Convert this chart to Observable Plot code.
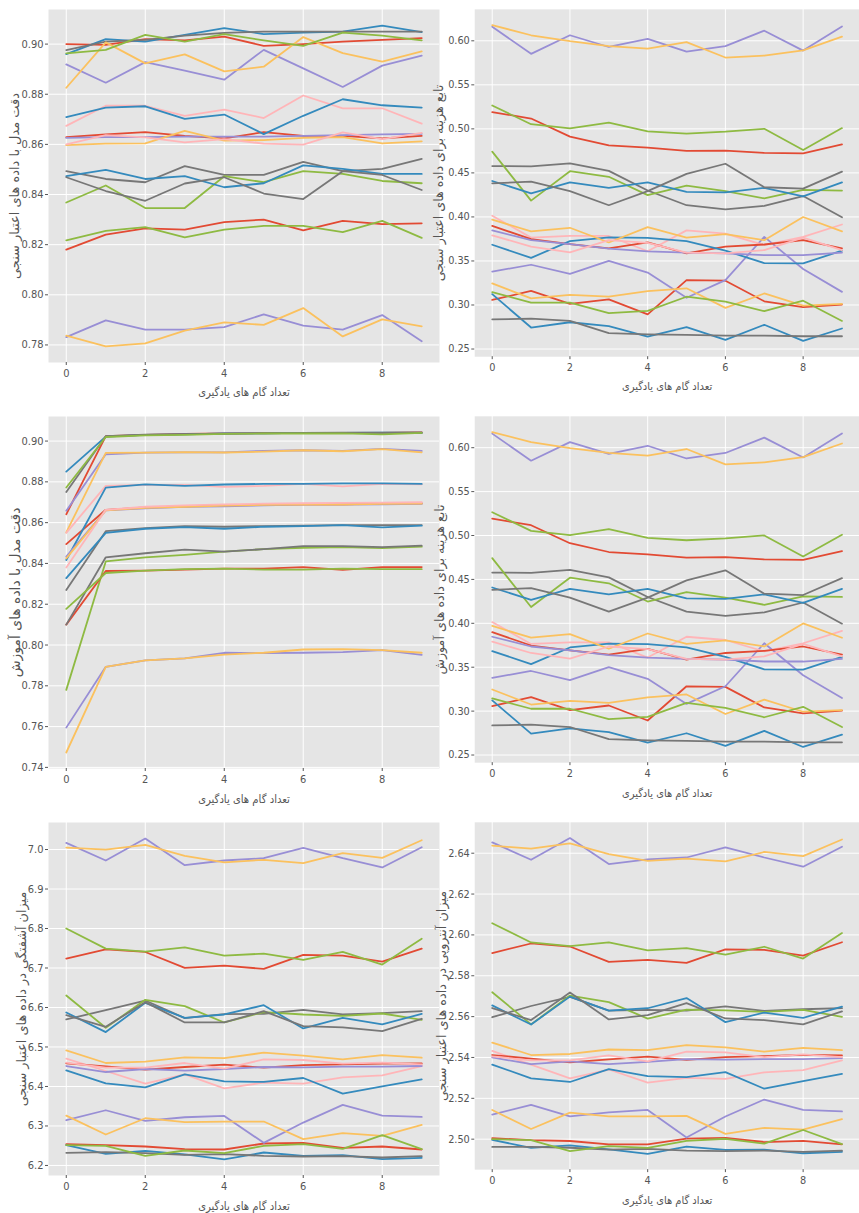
<!DOCTYPE html>
<html><head><meta charset="utf-8">
<script src="https://cdn.jsdelivr.net/npm/d3@7"></script>
<script src="https://cdn.jsdelivr.net/npm/@observablehq/plot@0.6"></script>
<style>
html,body{margin:0;padding:0;background:#fff;}
#fig{position:relative;width:859px;height:1213px;overflow:hidden;background:#fff;}
#fig > div{position:absolute;}
</style></head><body><div id="fig"></div>
<script>
// ---- data ----
const steps = [0,1,2,3,4,5,6,7,8,9];
const xTicks = [0,2,4,6,8];
const xLabel = "تعداد گام های یادگیری";

// series order: red, blue, purple, gray, yellow, green, pink (x3 runs)
const valAccuracy = [
 [0.900,0.8997,0.902,0.9015,0.903,0.8993,0.900,0.901,0.9017,0.9024],
 [0.896,0.902,0.901,0.9037,0.9064,0.904,0.9046,0.905,0.9074,0.9048],
 [0.8919,0.8846,0.8928,0.8894,0.8858,0.8977,0.8903,0.8829,0.8914,0.8954],
 [0.8976,0.901,0.9017,0.9034,0.9045,0.905,0.905,0.905,0.905,0.905],
 [0.8826,0.9007,0.8923,0.8959,0.8891,0.891,0.9028,0.8964,0.893,0.8971],
 [0.8963,0.8977,0.9037,0.901,0.904,0.9015,0.8993,0.9046,0.9034,0.9015],
 [0.8674,0.8754,0.8754,0.8714,0.8739,0.8705,0.8795,0.8744,0.8744,0.8683],
 [0.8629,0.864,0.8649,0.8634,0.8624,0.8649,0.8634,0.8634,0.8624,0.8634],
 [0.8709,0.8747,0.8752,0.8702,0.8719,0.8641,0.8714,0.878,0.8756,0.8747],
 [0.8626,0.8629,0.8629,0.8631,0.8631,0.8631,0.8634,0.8637,0.864,0.8642],
 [0.8493,0.8462,0.8449,0.8513,0.8478,0.8478,0.853,0.8493,0.8502,0.8542],
 [0.8597,0.8603,0.8604,0.8654,0.8615,0.8617,0.8626,0.8629,0.8604,0.8612],
 [0.8368,0.8436,0.8346,0.8346,0.8473,0.8449,0.8493,0.8482,0.8454,0.8445],
 [0.860,0.8637,0.8628,0.8608,0.8621,0.8603,0.8599,0.8648,0.8621,0.8646],
 [0.818,0.824,0.8265,0.826,0.829,0.830,0.8257,0.8295,0.8282,0.8285],
 [0.8473,0.8498,0.8462,0.8473,0.8429,0.8445,0.8516,0.8502,0.8482,0.8482],
 [0.7831,0.7898,0.7861,0.7861,0.7871,0.7922,0.7877,0.7861,0.7919,0.7815],
 [0.8469,0.8414,0.8375,0.8444,0.8469,0.8404,0.8382,0.8493,0.8478,0.8418],
 [0.7837,0.7794,0.7806,0.7857,0.789,0.788,0.7947,0.7834,0.7902,0.7874],
 [0.8217,0.8255,0.827,0.8229,0.826,0.8275,0.8275,0.825,0.8295,0.8227]
];

const trainAccuracy = [
 [0.8641,0.9024,0.903,0.9035,0.9037,0.904,0.904,0.904,0.904,0.9042],
 [0.885,0.9022,0.903,0.9033,0.9037,0.9038,0.904,0.904,0.9041,0.904],
 [0.8658,0.8935,0.8943,0.8945,0.8945,0.8952,0.8955,0.8952,0.8962,0.8952],
 [0.875,0.9024,0.9031,0.9034,0.9036,0.9038,0.904,0.9041,0.9041,0.9042],
 [0.8552,0.8942,0.8943,0.8946,0.8944,0.8948,0.8955,0.895,0.896,0.8945],
 [0.8772,0.902,0.9028,0.903,0.9035,0.9037,0.9037,0.9038,0.9033,0.904],
 [0.855,0.878,0.8785,0.8785,0.8775,0.878,0.879,0.8778,0.879,0.8788],
 [0.8495,0.8663,0.8675,0.868,0.8685,0.8688,0.869,0.869,0.8693,0.8695],
 [0.8417,0.8772,0.8788,0.878,0.8787,0.879,0.879,0.8793,0.8793,0.879],
 [0.8434,0.866,0.867,0.8678,0.868,0.8685,0.8688,0.8688,0.869,0.8692],
 [0.827,0.8558,0.8573,0.8583,0.858,0.8583,0.8585,0.8588,0.8588,0.8588],
 [0.8425,0.866,0.8672,0.8678,0.8683,0.8687,0.8688,0.8689,0.8692,0.8693],
 [0.778,0.841,0.843,0.8442,0.8458,0.847,0.8477,0.848,0.8475,0.8482],
 [0.838,0.8663,0.8678,0.8685,0.869,0.8693,0.8695,0.8697,0.8698,0.870],
 [0.81,0.8363,0.8365,0.837,0.8375,0.8375,0.8382,0.8368,0.8382,0.8382],
 [0.8328,0.855,0.857,0.8578,0.857,0.858,0.8583,0.8588,0.8577,0.8585],
 [0.7595,0.7893,0.7925,0.7935,0.7962,0.796,0.7962,0.7965,0.7975,0.7952],
 [0.81,0.843,0.845,0.8468,0.8458,0.847,0.8485,0.8485,0.848,0.8487],
 [0.7473,0.7893,0.7925,0.7935,0.7953,0.7962,0.7978,0.798,0.7975,0.7962],
 [0.8177,0.8353,0.8365,0.8372,0.8375,0.837,0.837,0.8375,0.8372,0.8372]
];

const valLoss = [
 [0.3057,0.316,0.3012,0.3064,0.2893,0.3283,0.3276,0.3042,0.2975,0.3005],
 [0.3123,0.2744,0.2804,0.276,0.2641,0.2748,0.2604,0.2775,0.2592,0.2733],
 [0.3379,0.3457,0.3353,0.3502,0.3368,0.3082,0.3283,0.3773,0.3409,0.3149],
 [0.2837,0.2845,0.2819,0.2681,0.2667,0.266,0.2652,0.2652,0.2645,0.2645],
 [0.3246,0.3075,0.3116,0.3094,0.3157,0.319,0.2967,0.3131,0.2993,0.3012],
 [0.3146,0.3027,0.3027,0.2908,0.2934,0.3094,0.3038,0.293,0.3049,0.2819],
 [0.4014,0.3765,0.3784,0.3784,0.361,0.3847,0.381,0.368,0.3773,0.3914],
 [0.3899,0.3747,0.3691,0.3643,0.371,0.3587,0.3662,0.3687,0.3736,0.3643],
 [0.3684,0.3535,0.3725,0.3769,0.3762,0.3725,0.3617,0.3476,0.3472,0.3617],
 [0.3847,0.3736,0.3691,0.3639,0.361,0.3595,0.3587,0.3565,0.3565,0.3595],
 [0.4578,0.4575,0.4608,0.4523,0.43,0.4133,0.4085,0.4125,0.4237,0.3996],
 [0.397,0.3836,0.3877,0.371,0.3884,0.3765,0.3806,0.3736,0.3999,0.3836],
 [0.4742,0.4185,0.4519,0.4456,0.4248,0.4356,0.4293,0.4211,0.4307,0.43],
 [0.3791,0.3662,0.3598,0.3736,0.3706,0.3595,0.3587,0.3624,0.3765,0.3624],
 [0.5191,0.5117,0.4912,0.4812,0.4786,0.4749,0.4753,0.4727,0.4723,0.4823],
 [0.4408,0.4267,0.4393,0.433,0.4393,0.4285,0.4278,0.433,0.4233,0.4393],
 [0.616,0.5852,0.6063,0.593,0.6022,0.5877,0.594,0.6115,0.5889,0.6163],
 [0.4382,0.44,0.4293,0.4133,0.4293,0.4489,0.4604,0.4337,0.4322,0.4515],
 [0.6178,0.6063,0.5996,0.594,0.591,0.5985,0.581,0.5833,0.5892,0.6048],
 [0.5265,0.5053,0.5005,0.5072,0.4972,0.4946,0.4968,0.5001,0.476,0.5009]
];
// the training-loss panel in the source shows the same curves
const trainLoss = valLoss;

const valPerplexity = [
 [6.2539,6.2514,6.248,6.2413,6.2404,6.2556,6.2573,6.2446,6.248,6.2404],
 [6.2514,6.2295,6.2371,6.2278,6.2152,6.2328,6.2244,6.2261,6.216,6.2194],
 [6.3145,6.3398,6.3128,6.3221,6.3255,6.2573,6.3086,6.3533,6.3263,6.323],
 [6.232,6.2337,6.2312,6.227,6.2286,6.2244,6.2227,6.2236,6.2202,6.2236],
 [6.3263,6.2783,6.3196,6.3095,6.3112,6.3112,6.2665,6.2817,6.275,6.3027],
 [6.2514,6.2497,6.2244,6.2379,6.2312,6.2497,6.2539,6.2421,6.2766,6.2413],
 [6.4703,6.4392,6.4072,6.4307,6.3954,6.4097,6.4072,6.4232,6.4282,6.4518],
 [6.4585,6.451,6.4425,6.4493,6.4552,6.4476,6.4543,6.456,6.4577,6.4585],
 [6.4408,6.408,6.3979,6.4307,6.413,6.4114,6.4215,6.3819,6.4004,6.4181],
 [6.4518,6.4366,6.4442,6.44,6.4442,6.4493,6.4484,6.4501,6.4501,6.4518],
 [6.5697,6.5933,6.6177,6.573,6.5832,6.584,6.5941,6.5823,6.5857,6.5907],
 [6.4914,6.4594,6.4627,6.4737,6.472,6.4855,6.4779,6.4686,6.4796,6.4728],
 [6.6303,6.5486,6.6194,6.6034,6.5621,6.5882,6.5823,6.579,6.5848,6.5688],
 [6.4602,6.4476,6.4476,6.4594,6.445,6.4686,6.467,6.4577,6.4602,6.456],
 [6.7238,6.7474,6.7406,6.7002,6.7061,6.6977,6.733,6.7314,6.7162,6.749],
 [6.5874,6.5377,6.6118,6.5739,6.5823,6.6059,6.5469,6.5739,6.557,6.584],
 [7.0168,6.9722,7.0278,6.9604,6.9722,6.978,7.0042,6.978,6.9545,7.0059],
 [6.5806,6.5512,6.6135,6.5621,6.5621,6.5907,6.5528,6.5495,6.5402,6.5714],
 [7.005,7.0,7.0118,6.984,6.9672,6.974,6.9655,6.9907,6.979,7.0236],
 [6.80,6.749,6.7415,6.7524,6.7314,6.7364,6.7204,6.7406,6.7086,6.7743]
];

const valEntropy = [
 [2.5005,2.4995,2.4991,2.4975,2.4975,2.5003,2.5006,2.4986,2.4992,2.4975],
 [2.4997,2.4957,2.497,2.495,2.4928,2.4963,2.4947,2.4949,2.4931,2.4938],
 [2.512,2.5168,2.5112,2.5131,2.5143,2.5008,2.5111,2.5194,2.5143,2.5136],
 [2.4962,2.4962,2.4958,2.4949,2.4952,2.4944,2.4941,2.4944,2.4938,2.4944],
 [2.5143,2.505,2.513,2.5112,2.5112,2.5114,2.5026,2.5055,2.5047,2.5098],
 [2.5,2.4995,2.4941,2.4966,2.4957,2.4992,2.5002,2.4978,2.5045,2.4976],
 [2.5432,2.5365,2.5298,2.5341,2.5277,2.53,2.5295,2.5327,2.5338,2.5386],
 [2.5412,2.5394,2.5376,2.5391,2.5404,2.5388,2.5402,2.5407,2.5413,2.541],
 [2.5365,2.5298,2.528,2.5343,2.5309,2.5304,2.5328,2.5247,2.5284,2.532],
 [2.54,2.5367,2.5381,2.5367,2.5378,2.5392,2.5389,2.5392,2.5392,2.5397],
 [2.5597,2.5652,2.5697,2.5629,2.5633,2.5629,2.565,2.5628,2.5636,2.5641],
 [2.5473,2.5412,2.5417,2.5439,2.5436,2.546,2.5449,2.5428,2.5447,2.5436],
 [2.5719,2.5562,2.5703,2.5671,2.559,2.5634,2.5631,2.5623,2.5633,2.5599],
 [2.5405,2.5386,2.5386,2.541,2.5381,2.5429,2.5425,2.5402,2.5415,2.5402],
 [2.5911,2.5958,2.5943,2.5868,2.5878,2.5863,2.5929,2.5927,2.5899,2.5964],
 [2.5655,2.5561,2.5698,2.5629,2.5641,2.5691,2.5573,2.562,2.5594,2.5649],
 [2.6453,2.6368,2.6474,2.6347,2.637,2.6379,2.6429,2.6379,2.6334,2.6432],
 [2.5642,2.5583,2.5718,2.5586,2.5607,2.5666,2.5591,2.5583,2.5562,2.5626],
 [2.6437,2.6422,2.6448,2.6395,2.6363,2.6373,2.636,2.6406,2.6386,2.6467],
 [2.6057,2.5963,2.5945,2.5964,2.5924,2.5935,2.5903,2.5942,2.5884,2.6009]
];

const accValTicks = [0.78,0.80,0.82,0.84,0.86,0.88,0.90];
const accTrainTicks = [0.74,0.76,0.78,0.80,0.82,0.84,0.86,0.88,0.90];
const lossTicks = [0.25,0.30,0.35,0.40,0.45,0.50,0.55,0.60];
const perplexityTicks = [6.2,6.3,6.4,6.5,6.6,6.7,6.8,6.9,7.0];
const entropyTicks = [2.50,2.52,2.54,2.56,2.58,2.60,2.62,2.64];

const yLabels = {
  valAcc: "دقت مدل با داده های اعتبار سنجی",
  valLoss: "تابع هزینه برای داده های اعتبار سنجی",
  trainAcc: "دقت مدل با داده های آموزش",
  trainLoss: "تابع هزینه برای داده های آموزش",
  perplexity: "میزان آشفتگی در داده های اعتبار سنجی",
  entropy: "میزان آنتروپی در داده های اعتبار سنجی"
};

// ---- style ----
const palette = ["#E24A33","#348ABD","#988ED5","#777777","#FBC15E","#8EBA42","#FFB5B8"];
const TICKFONT = "'DejaVu Sans Condensed','Liberation Sans Narrow','DejaVu Sans',sans-serif";
const LABELFONT = "'DejaVu Sans',sans-serif";
const XLABELFONT = "'DejaVu Sans Condensed','DejaVu Sans',sans-serif";
const fig = document.getElementById("fig");

// choose a font size so that a label spans about the same length as in the source
const ctx = document.createElement("canvas").getContext("2d");
function fitSize(text, family, target, lo, hi) {
  ctx.font = `100px ${family}`;
  const w = ctx.measureText(text).width;
  return Math.max(lo, Math.min(hi, 100 * target / w));
}

function panel(values, o) {
  const rows = values.flatMap((s, id) => s.map((v, i) => ({id, step: steps[i], v})));
  const ids = d3.range(values.length);
  const [lo, hi] = d3.extent(rows, d => d.v);
  const pad = (hi - lo) * 0.05;
  const xs = fitSize(xLabel, XLABELFONT, 88, 11.2, 13);
  const ys = fitSize(o.label, LABELFONT, o.llen, 11, 14);
  const p = Plot.plot({
    width: 439, height: o.height,
    marginLeft: 48, marginRight: 0, marginTop: o.mTop, marginBottom: o.mBottom,
    style: {background: "transparent", overflow: "visible", fontFamily: TICKFONT, fontSize: "11px", color: "#555"},
    x: {domain: [-0.45, 9.45]},
    y: {domain: [lo - pad, hi + pad]},
    color: {domain: ids, range: ids.map(i => palette[i % palette.length])},
    marks: [
      Plot.frame({fill: "#E5E5E5", stroke: "none"}),
      Plot.gridX(xTicks, {stroke: "white", strokeOpacity: 1, strokeWidth: 1}),
      Plot.gridY(o.ticks, {stroke: "white", strokeOpacity: 1, strokeWidth: 1}),
      Plot.axisX(xTicks, {tickSize: 3, tickPadding: 4, tickFormat: d => String(d), label: null}),
      Plot.axisY(o.ticks, {tickSize: 3, tickPadding: 2, tickFormat: o.fmt, label: null}),
      Plot.lineY(rows, {x: "step", y: "v", z: "id", stroke: "id", strokeWidth: 1.8}),
      Plot.text([xLabel], {text: d => d, frameAnchor: "bottom", textAnchor: "middle", lineAnchor: "middle", dy: o.xdy, fontSize: xs, fill: "#555", fontFamily: XLABELFONT}),
      Plot.text([o.label], {text: d => d, frameAnchor: "left", rotate: -90, textAnchor: "middle", lineAnchor: "middle", dx: o.ldx, fontSize: ys, fill: "#555", fontFamily: LABELFONT})
    ]
  });
  const wrap = document.createElement("div");
  wrap.style.left = o.left + "px";
  wrap.style.top = o.top + "px";
  wrap.appendChild(p);
  fig.appendChild(wrap);
}

const f2 = d3.format(".2f"), f1 = d3.format(".1f");
// left column first, then right column (right labels overlap left frames)
panel(valAccuracy, {ticks: accValTicks, fmt: f2, label: yLabels.valAcc, llen: 186, left: 0, top: 0, height: 405, mTop: 9, mBottom: 43, xdy: 30, ldx: -34});
panel(trainAccuracy, {ticks: accTrainTicks, fmt: f2, label: yLabels.trainAcc, llen: 170, left: 0, top: 405, height: 405, mTop: 11, mBottom: 42, xdy: 31, ldx: -33});
panel(valPerplexity, {ticks: perplexityTicks, fmt: f1, label: yLabels.perplexity, llen: 215, left: 0, top: 810, height: 403, mTop: 12, mBottom: 38, xdy: 31, ldx: -27});
panel(valLoss, {ticks: lossTicks, fmt: f2, label: yLabels.valLoss, llen: 200, left: 427, top: 0, height: 405, mTop: 9, mBottom: 43, xdy: 30, ldx: -36});
panel(trainLoss, {ticks: lossTicks, fmt: f2, label: yLabels.trainLoss, llen: 173, left: 427, top: 405, height: 405, mTop: 11, mBottom: 42, xdy: 31, ldx: -35});
panel(valEntropy, {ticks: entropyTicks, fmt: f2, label: yLabels.entropy, llen: 214, left: 427, top: 810, height: 403, mTop: 12, mBottom: 38, xdy: 31, ldx: -33});
</script>
</body></html>
